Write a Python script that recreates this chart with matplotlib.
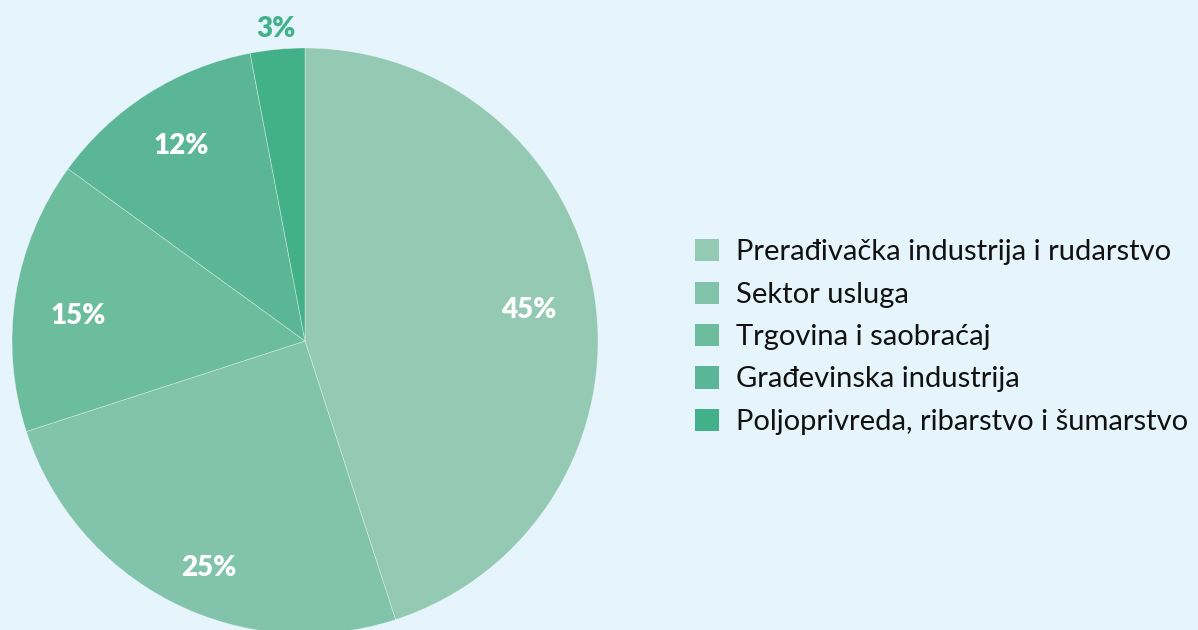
import matplotlib.pyplot as plt
import numpy as np

sectors = ['Prerađivačka industrija i rudarstvo', 'Sektor usluga',
           'Trgovina i saobraćaj', 'Građevinska industrija',
           'Poljoprivreda, ribarstvo i šumarstvo']
shares = [45, 25, 15, 12, 3]
colors = ['#94CAB3', '#82C3AB', '#6CBC9E', '#5BB697', '#42B18A']

plt.rcParams['font.family'] = ['Lato', 'DejaVu Sans']

fig = plt.figure(figsize=(11.98, 6.3), dpi=100)
fig.patch.set_facecolor('#E6F4FC')

W, H = 1198, 630
cx, cy, r = 305, 341, 293
ax = fig.add_axes([(cx - r) / W, (H - cy - r) / H, 2 * r / W, 2 * r / H])
ax.set_facecolor('none')

wedges, _ = ax.pie(shares, colors=colors, startangle=90, counterclock=False,
                   wedgeprops=dict(edgecolor=(1, 1, 1, 0.45), linewidth=0.5))
ax.set_xlim(-1, 1)
ax.set_ylim(-1, 1)
ax.set_aspect('equal')
ax.axis('off')

# label placement tuned to match the reference (distance, angle nudge)
dists = [0.77, 0.84, 0.78, 0.79, 1.07]
nudge = [-1.2, 4, 2.7, 0, 0]
for w, val, d, dn in zip(wedges, shares, dists, nudge):
    ang = np.deg2rad((w.theta1 + w.theta2) / 2 + dn)
    col = 'white' if d < 1 else colors[-1]
    ax.text(d * np.cos(ang), d * np.sin(ang), f'{val}%', ha='center',
            va='center', fontsize=20, fontweight='heavy', color=col,
            clip_on=False)

leg = fig.legend(wedges, sectors, loc='center left',
                 bbox_to_anchor=(669 / W, 1 - 337 / H), frameon=False,
                 fontsize=21, handlelength=0.8, handleheight=0.8,
                 handletextpad=0.6, labelspacing=0.55)
for t in leg.get_texts():
    t.set_color('#111111')
for h in leg.legend_handles:
    h.set_edgecolor('none')

fig.savefig('out.png', dpi=100, facecolor=fig.get_facecolor())
